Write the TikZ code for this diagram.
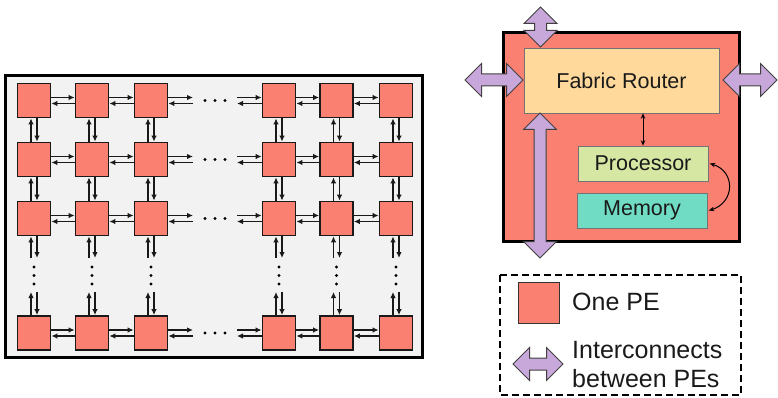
\documentclass[tikz,border=0pt]{standalone}
\usepackage{fontspec}
\setmainfont{Liberation Sans}
\usetikzlibrary{arrows.meta,shapes.arrows}
\definecolor{pe}{HTML}{FA8072}
\definecolor{meshbg}{HTML}{F2F2F2}
\definecolor{router}{HTML}{FFD99B}
\definecolor{proc}{HTML}{D6E6A3}
\definecolor{memc}{HTML}{70DCC3}
\definecolor{purp}{HTML}{C8A8DA}
\definecolor{txt}{HTML}{1A1A1A}
\begin{document}
\begin{tikzpicture}[x=1pt,y=-1pt,
  pebox/.style={draw=black!90,fill=pe,line width=1.7pt,minimum width=33pt,minimum height=34pt,inner sep=0pt},
  meshar/.style={line width=1.7pt,draw=black!90,arrows={-Latex[length=6pt,width=5.5pt]}},
  unitbox/.style={draw=black!55,line width=0.6pt,inner sep=0pt,text=txt,font=\fontsize{21.5}{24}\selectfont},
  purparrow/.style={double arrow,draw=black!75,fill=purp,line width=1pt,inner sep=5.5pt,
    double arrow head extend=10.5pt,minimum width=32pt,double arrow tip angle=90},
  legtext/.style={anchor=base west,text=txt,font=\fontsize{25}{29}\selectfont,inner sep=0pt}]
\useasboundingbox (0,0) rectangle (778,398);

% ---------------- mesh ----------------
\draw[line width=3pt,fill=meshbg] (5,76) rectangle (422,357);
\foreach \i/\y in {1/100.5,2/159.5,3/218.5,4/333}{
  \foreach \j/\x in {1/34,2/92,3/151,4/279,5/336.5,6/396}{
    \node[pebox] (p\i\j) at (\x,\y) {};
  }
  \coordinate (hr\i) at (193,\y);
  \coordinate (hl\i) at (237,\y);
  \foreach \d in {205,215,225}{\fill (\d,\y) circle (1.6pt);}
}
% horizontal arrows
\foreach \i in {1,2,3,4}{
  \foreach \j/\k in {1/2,2/3,4/5,5/6}{
    \draw[meshar] ([yshift=3pt]p\i\j.east) -- ([yshift=3pt]p\i\k.west);
    \draw[meshar] ([yshift=-3pt]p\i\k.west) -- ([yshift=-3pt]p\i\j.east);
  }
  \draw[meshar] ([yshift=3pt]p\i3.east) -- ([yshift=3pt]hr\i);
  \draw[meshar] ([yshift=-3pt]hr\i) -- ([yshift=-3pt]p\i3.east);
  \draw[meshar] ([yshift=3pt]hl\i) -- ([yshift=3pt]p\i4.west);
  \draw[meshar] ([yshift=-3pt]p\i4.west) -- ([yshift=-3pt]hl\i);
}
% vertical arrows
\foreach \j/\x in {1/34,2/92,3/151,4/279,5/336.5,6/396}{
  \foreach \a/\b in {1/2,2/3}{
    \draw[meshar] ([xshift=-3pt]p\b\j.north) -- ([xshift=-3pt]p\a\j.south);
    \draw[meshar] ([xshift=3pt]p\a\j.south) -- ([xshift=3pt]p\b\j.north);
  }
  \coordinate (vt\j) at (\x,258);
  \coordinate (vb\j) at (\x,292);
  \draw[meshar] ([xshift=-3pt]vt\j) -- ([xshift=-3pt]p3\j.south);
  \draw[meshar] ([xshift=3pt]p3\j.south) -- ([xshift=3pt]vt\j);
  \draw[meshar] ([xshift=-3pt]p4\j.north) -- ([xshift=-3pt]vb\j);
  \draw[meshar] ([xshift=3pt]vb\j) -- ([xshift=3pt]p4\j.north);
  \foreach \d in {267,275.5,284}{\fill (\x,\d) circle (1.6pt);}
}

% ---------------- single PE ----------------
\draw[line width=3pt,fill=pe] (503,33) rectangle (739,241);
\node[unitbox,fill=router,minimum width=195pt,minimum height=65pt] (rt) at (621.5,80.5) {Fabric Router};
\node[unitbox,fill=proc,minimum width=130pt,minimum height=35pt] (pr) at (643,163.5) {Processor};
\node[unitbox,fill=memc,minimum width=130pt,minimum height=35pt] (mm) at (642,210.5) {Memory};
\draw[line width=1pt,{Stealth[length=5.5pt,width=4.5pt]}-{Stealth[length=5.5pt,width=4.5pt]}] (pr.north) -- (pr.north |- rt.south);
\draw[line width=1pt,{Stealth[length=5.5pt,width=4.5pt]}-{Stealth[length=5.5pt,width=4.5pt]}]
  ([xshift=1.5pt]pr.east) .. controls +(26,8) and +(26,-8) .. ([xshift=1.5pt]mm.east);

\node[purparrow,minimum height=40pt,rotate=90] (atop) at (540.5,27) {};
\node[purparrow,minimum height=145pt,rotate=90] (abot) at (540,185.5) {};
\node[purparrow,minimum height=58pt] (aleft) at (494,80) {};
\node[purparrow,minimum height=54pt] (aright) at (750,80) {};

% ---------------- legend ----------------
\draw[line width=2.5pt,dash pattern=on 7pt off 4pt] (500,275) rectangle (741,395);
\node[draw=black!80,fill=pe,line width=1pt,minimum width=41pt,minimum height=41pt,inner sep=0pt] (lpe) at (538.5,302.5) {};
\node[legtext] (lt1) at (572,310) {One PE};
\node[purparrow,minimum height=50pt] (larr) at (538,364) {};
\node[legtext] (lt2) at (572,358) {Interconnects};
\node[legtext] (lt3) at (572,387) {between PEs};
\end{tikzpicture}
\end{document}
